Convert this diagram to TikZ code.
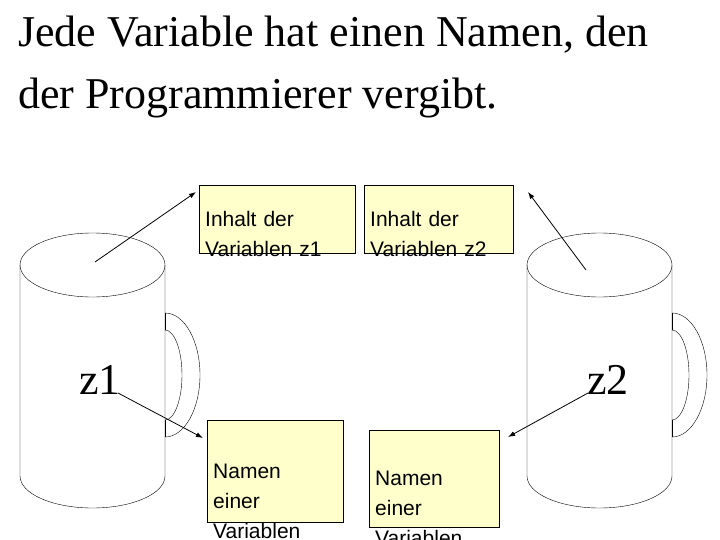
\documentclass[tikz,border=0pt]{standalone}
\usepackage{fontspec}
\usetikzlibrary{arrows.meta}
\setmainfont{Liberation Serif}
\newfontfamily\arial{Liberation Sans}
\begin{document}
\begin{tikzpicture}[x=1pt,y=-1pt,
  box/.style={draw,fill={rgb,255:red,255;green,255;blue,204},align=left,anchor=north west,inner xsep=6pt,inner ysep=6pt,font=\arial\fontsize{21}{30}\selectfont,text depth=0pt},
  arr/.style={thick,-{Latex[length=7pt,width=5pt]}},
  lbl/.style={font=\fontsize{44}{44}\selectfont,inner sep=0pt}]
\useasboundingbox (0,0) rectangle (720,540);
\node[anchor=north west,align=left,font=\fontsize{44}{62}\selectfont,inner sep=0pt] (title) at (18,16) {Jede Variable hat einen Namen, den\\der Programmierer vergibt.};
% mug 1
\draw (20,265) -- (20,476) arc[start angle=180,end angle=0,x radius=72.5,y radius=32] -- (165,265);
\draw (92.5,265) ellipse[x radius=72.5,y radius=32];
\draw (165,313) arc[start angle=-90,end angle=90,x radius=35,y radius=62];
\draw (165,330) arc[start angle=-90,end angle=90,x radius=17,y radius=45];
\draw[thick] (165,313)--(165,330) (165,420)--(165,437);
% mug 2
\draw (527,265) -- (527,476) arc[start angle=180,end angle=0,x radius=72.5,y radius=32] -- (672,265);
\draw (599.5,265) ellipse[x radius=72.5,y radius=32];
\draw (672,313) arc[start angle=-90,end angle=90,x radius=35,y radius=62];
\draw (672,330) arc[start angle=-90,end angle=90,x radius=17,y radius=45];
\draw[thick] (672,313)--(672,330) (672,420)--(672,437);
% boxes
\node[box,text width=144,minimum height=68] (b1) at (199,185) {Inhalt der\\Variablen z1};
\node[box,text width=137,minimum height=68] (b2) at (364,185) {Inhalt der\\Variablen z2};
\node[box,text width=124,minimum height=102] (b3) at (207,420) {Namen\\einer\\Variablen};
\node[box,text width=118,minimum height=97] (b4) at (369,430) {Namen\\einer\\Variablen};
\node[lbl] (z1) at (100,380) {z1};
\node[lbl] (z2) at (608,380) {z2};
\coordinate (c1) at (95,262);
\coordinate (c2) at (586,270);
\coordinate (e1) at (196,192);
\coordinate (e2) at (528,192);
\coordinate (s3) at (118,393);
\coordinate (e3) at (203,438);
\coordinate (s4) at (588,393);
\coordinate (e4) at (508,437);
\draw[arr] (c1) -- (e1);
\draw[arr] (c2) -- (e2);
\draw[arr] (s3) -- (e3);
\draw[arr] (s4) -- (e4);
\end{tikzpicture}
\end{document}
